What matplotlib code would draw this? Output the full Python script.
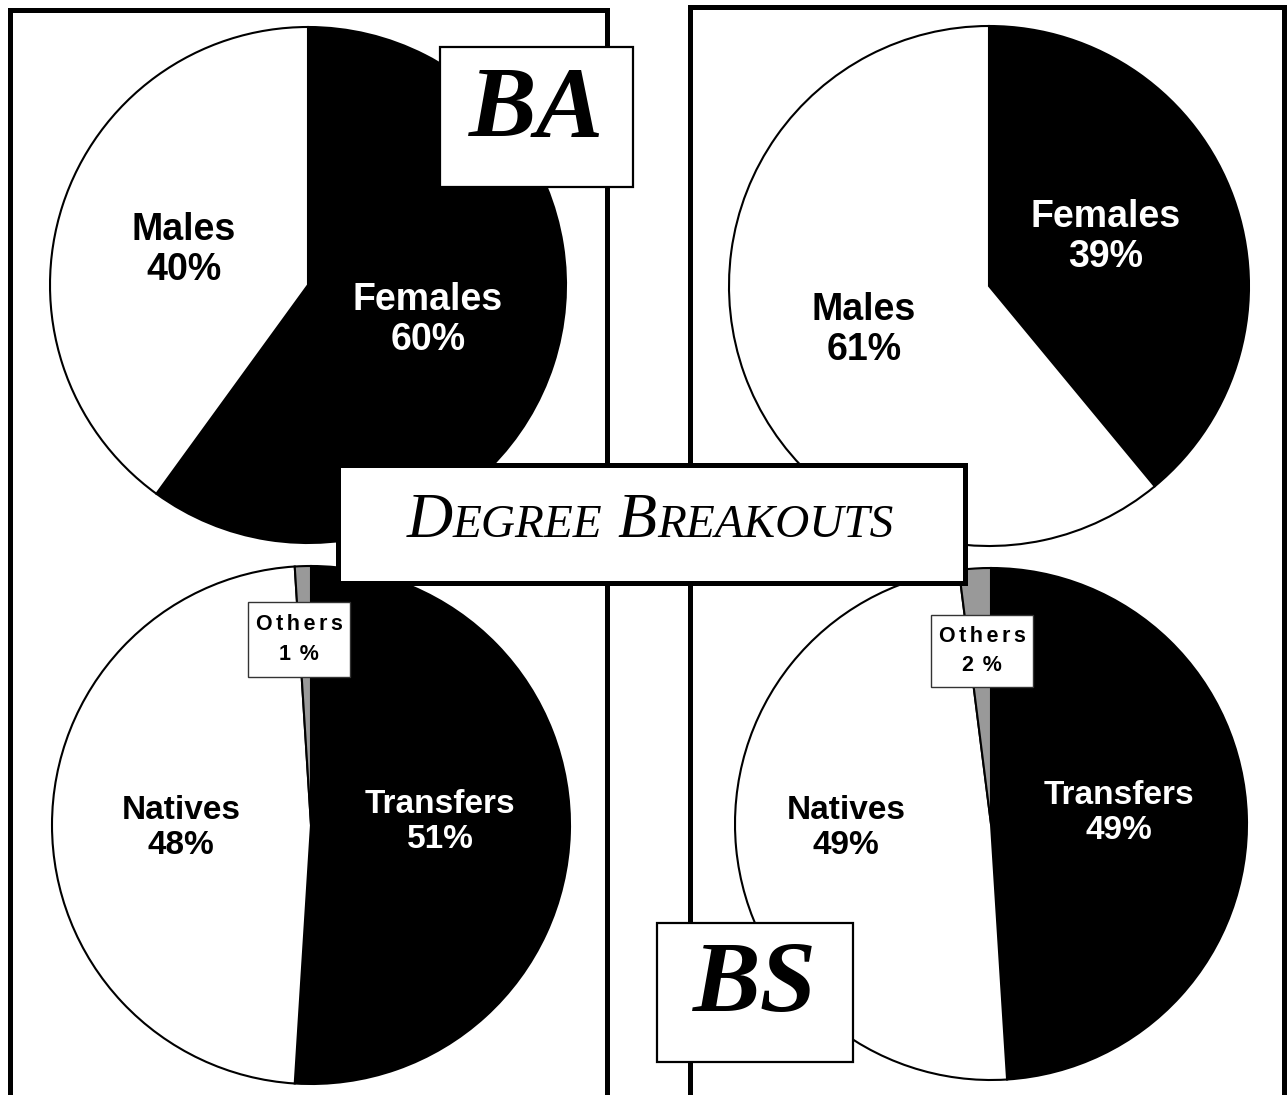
import matplotlib
matplotlib.use('Agg')
import matplotlib.pyplot as plt
from matplotlib.patches import Rectangle
from matplotlib.offsetbox import TextArea, HPacker, AnnotationBbox

W, H = 1288, 1095

# data
ba_gender_labels = ['Females', 'Males']
ba_gender_values = [60, 40]
bs_gender_labels = ['Females', 'Males']
bs_gender_values = [39, 61]
ba_origin_labels = ['Transfers', 'Natives', 'Others']
ba_origin_values = [51, 48, 1]
bs_origin_labels = ['Transfers', 'Natives', 'Others']
bs_origin_values = [49, 49, 2]

title = 'Degree Breakouts'


def Y(py):
    # pixel row (from top) -> data y
    return H - py


fig = plt.figure(figsize=(W / 100, H / 100), dpi=100)
ax = fig.add_axes([0, 0, 1, 1])

# panel frames (open at the bottom)
ax.plot([10, 10, 607, 607], [Y(1100), Y(10), Y(10), Y(1100)],
        color='black', lw=3.6, solid_joinstyle='miter', zorder=1)
ax.plot([690, 690, 1284, 1284], [Y(1100), Y(7), Y(7), Y(1100)],
        color='black', lw=3.6, solid_joinstyle='miter', zorder=1)


def draw_pie(values, colors, cx, cy, r):
    wedges, _ = ax.pie(values, colors=colors, startangle=90, counterclock=False,
                       center=(cx, Y(cy)), radius=r,
                       wedgeprops=dict(edgecolor='black', linewidth=1.5))
    for w in wedges:
        w.set_zorder(2)
    return wedges


draw_pie(ba_gender_values, ['black', 'white'], 308, 285, 258)
draw_pie(bs_gender_values, ['black', 'white'], 989, 286, 260)
draw_pie(ba_origin_values, ['black', 'white', '#999999'], 311, 825, 259)
draw_pie(bs_origin_values, ['black', 'white', '#999999'], 991, 824, 256)

lab_font = dict(family=['Liberation Sans', 'DejaVu Sans'], fontweight='bold',
                ha='center', va='center', linespacing=1.15, zorder=3)


def label(name, val, px, py, color, size):
    ax.text(px, Y(py), f'{name}\n{val}%', color=color, fontsize=size, **lab_font)


label(ba_gender_labels[0], ba_gender_values[0], 428, 320, 'white', 27)
label(ba_gender_labels[1], ba_gender_values[1], 184, 250, 'black', 27)
label(bs_gender_labels[0], bs_gender_values[0], 1106, 237, 'white', 27)
label(bs_gender_labels[1], bs_gender_values[1], 864, 330, 'black', 27)
label(ba_origin_labels[0], ba_origin_values[0], 440, 822, 'white', 24)
label(ba_origin_labels[1], ba_origin_values[1], 181, 828, 'black', 24)
label(bs_origin_labels[0], bs_origin_values[0], 1119, 813, 'white', 24)
label(bs_origin_labels[1], bs_origin_values[1], 846, 828, 'black', 24)


def spaced(s):
    # letter-spaced text, the way the small callouts are set
    return '\u200a\u200a'.join(s)


def others_box(name, val, x0, y0, x1, y1):
    ax.add_patch(Rectangle((x0, Y(y1)), x1 - x0, y1 - y0, facecolor='white',
                           edgecolor='#333333', lw=1.0, zorder=4))
    ax.text((x0 + x1) / 2, Y((y0 + y1) / 2), spaced(name) + '\n' + spaced(f'{val}\u200a%'),
            family=['Liberation Sans', 'DejaVu Sans'], fontweight='bold', fontsize=15.5,
            ha='center', va='center', linespacing=1.55, zorder=5)


others_box(ba_origin_labels[2], ba_origin_values[2], 248, 602, 350, 677)
others_box(bs_origin_labels[2], bs_origin_values[2], 931, 615, 1033, 687)


def degree_box(text, x0, y0, x1, y1, baseline):
    ax.add_patch(Rectangle((x0, Y(y1)), x1 - x0, y1 - y0, facecolor='white',
                           edgecolor='black', lw=1.6, zorder=4))
    ax.text((x0 + x1) / 2, Y(baseline), text, family='Liberation Serif',
            fontweight='bold', style='italic', fontsize=73,
            ha='center', va='baseline', zorder=5)


degree_box('BA', 440, 47, 633, 187, 137)
degree_box('BS', 657, 923, 853, 1062, 1012)

# title box with faux small caps
ax.add_patch(Rectangle((338, Y(583)), 965 - 338, 583 - 465, facecolor='white',
                       edgecolor='black', lw=3.6, zorder=6))

big = dict(family='Liberation Serif', style='italic', fontsize=46)
small = dict(family='Liberation Serif', style='italic', fontsize=34)
words = []
for w in title.split():
    parts = [TextArea(w[0], textprops=big), TextArea(w[1:].upper(), textprops=small)]
    words.append(HPacker(children=parts, align='baseline', pad=0, sep=0))
title_pack = HPacker(children=words, align='baseline', pad=0, sep=11)
ab = AnnotationBbox(title_pack, (650, Y(522)), frameon=False, box_alignment=(0.5, 0.5),
                    zorder=7)
ax.add_artist(ab)

ax.set_xlim(0, W)
ax.set_ylim(0, H)
ax.set_aspect('auto')
ax.axis('off')

fig.savefig('out.png', dpi=100, facecolor='white')
